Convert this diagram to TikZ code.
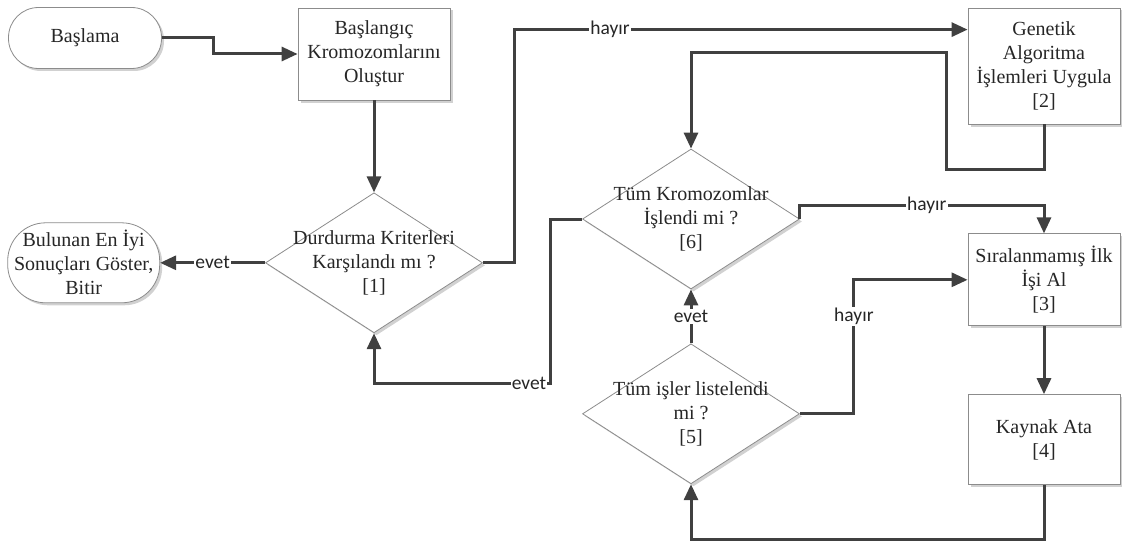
\documentclass[tikz,border=0pt]{standalone}
\usepackage{fontspec}
\setmainfont{Liberation Serif}
\newfontfamily\lblfont{Carlito}
\usepackage{tikz}
\usetikzlibrary{arrows.meta,positioning,shapes.geometric,shadows,calc}

\begin{document}
\begin{tikzpicture}[
  x=1pt, y=-1pt,
  box/.style={draw=black!45, fill=white, line width=0.8pt, align=center,
              inner sep=1pt, text=black!85,
              font=\fontsize{20}{24}\selectfont,
              drop shadow={shadow xshift=2.5pt, shadow yshift=-2.5pt,
                           fill=black!18, opacity=1}},
  proc/.style={box, minimum width=152pt, minimum height=92pt},
  term/.style={box, rounded corners=30pt, minimum width=153pt, minimum height=61pt},
  decision/.style={box, diamond, minimum width=217pt, minimum height=140pt},
  dtext/.style={align=center, inner sep=0pt, text=black!85,
                font=\fontsize{20}{24}\selectfont},
  flow/.style={-{Triangle[length=16pt, width=14pt]}, line width=3pt, draw=black!75},
  lbl/.style={font=\lblfont\fontsize{19.5}{22}\selectfont, fill=white,
              inner sep=1pt, text=black!85},
]
\useasboundingbox (0,0) rectangle (1122,543);

%% ---- start and first population -------------------------------------------
\node[term] (start) at (85,38) {Başlama};
\node[proc] (init) at (374,54) {Başlangıç\\Kromozomlarını\\Oluştur};

%% ---- stop test [1] and the end -------------------------------------------
\node[decision, below=92pt of init,
      label={[dtext]center:Durdurma Kriterleri\\Karşılandı mı ?\\{[1]}}] (stop) {};
\node[term, left=105pt of stop, minimum width=152pt, minimum height=80pt,
      rounded corners=38pt] (done) {Bulunan En İyi\\Sonuçları Göster,\\Bitir};

%% ---- genetic operators [2] -----------------------------------------------
\node[proc, minimum height=116pt] (ga) at (1044,66)
  {Genetik\\Algoritma\\İşlemleri Uygula\\{[2]}};

%% ---- inner loop tests [6] and [5] ----------------------------------------
\node[decision,
      label={[dtext]center:Tüm Kromozomlar\\İşlendi mi ?\\{[6]}}] (allchr) at (691,219) {};
\node[decision, below=54pt of allchr,
      label={[dtext]center:Tüm işler listelendi\\mi ?\\{[5]}}] (alljob) {};

%% ---- job steps [3] and [4] -----------------------------------------------
\node[proc, below=109pt of ga] (pick) {Sıralanmamış İlk\\İşi Al\\{[3]}};
\node[proc, below=68pt of pick, minimum height=90pt] (assign) {Kaynak Ata\\{[4]}};

\coordinate (gain) at ($(ga.north west)+(0,22)$);

%% ---- flow ----------------------------------------------------------------
\draw[flow] (start.east) -- ++(52,0) |- (init.west);
\draw[flow] (init) -- (stop);
\draw[flow] (stop.west) -- node[lbl] {evet} (done.east);
\draw[flow] (stop.east) -- ++(32,0) |- node[lbl, pos=0.605] {hayır} (gain);
\draw[flow] (ga.south) -- ++(0,45) -| ++(-98,-117) -| (allchr.north);
\draw[flow] (allchr.east) -- ++(0,-14) -| node[lbl, pos=0.26] {hayır} (pick.north);
\draw[flow] (allchr.west) -- ++(-32,0) -- ++(0,164)
  node[lbl, anchor=east, xshift=-1.5pt] {evet} -| (stop.south);
\draw[flow] (alljob) -- node[lbl] {evet} (allchr);
\draw[flow] (alljob.east) -- ++(54,0) |- node[lbl, pos=0.363] {hayır} (pick.west);
\draw[flow] (pick) -- (assign);
\draw[flow] (assign.south) -- ++(0,54) -| (alljob.south);

\end{tikzpicture}
\end{document}
